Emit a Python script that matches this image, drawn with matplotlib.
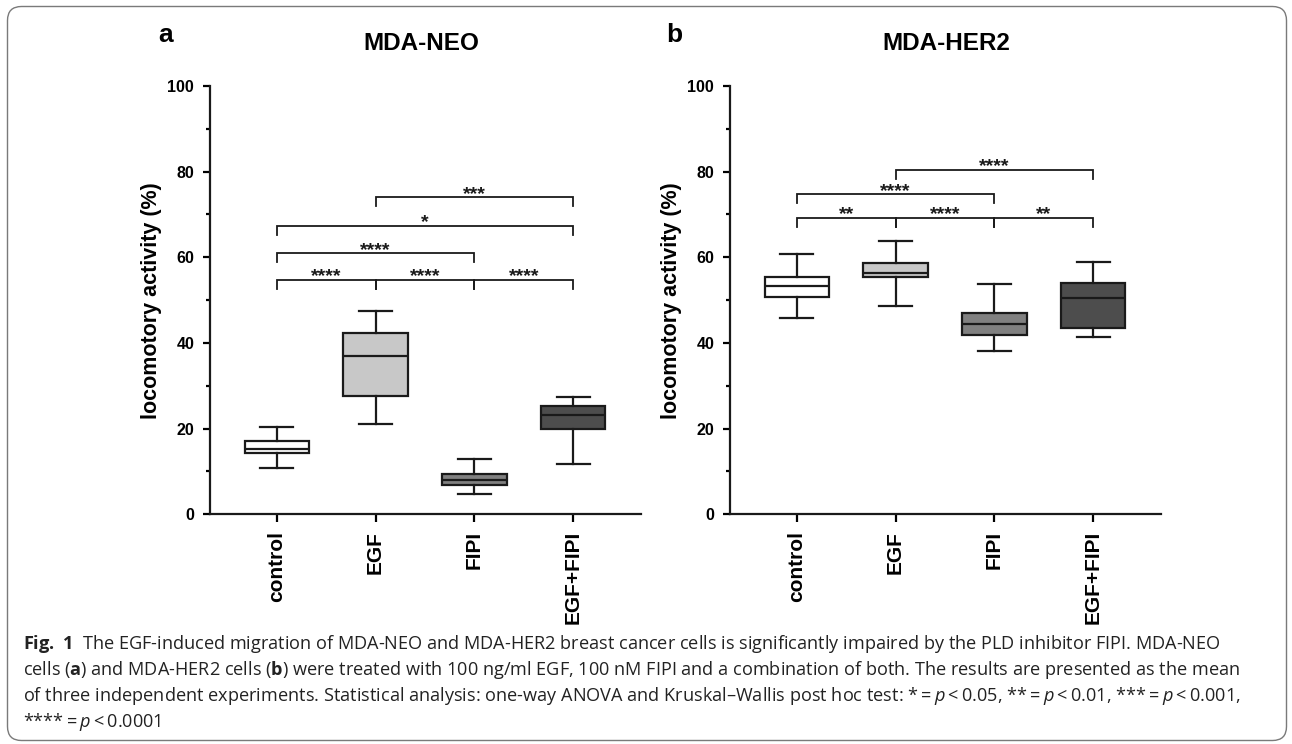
"""
Box plots of locomotory activity for MDA-NEO and MDA-HER2 cells (Fig. 1)
"""
import matplotlib
matplotlib.use('Agg')
import matplotlib.pyplot as plt
from matplotlib.patches import FancyBboxPatch
from matplotlib.ticker import MultipleLocator
from matplotlib.transforms import IdentityTransform

W, H = 1292, 744

groups = ['control', 'EGF', 'FIPI', 'EGF+FIPI']
box_colors = ['#ffffff', '#c8c8c8', '#808080', '#4d4d4d']

# panel a: MDA-NEO
neo_whislo = [10.7, 21.1, 4.7, 11.8]
neo_q1 = [14.3, 27.6, 6.8, 19.8]
neo_med = [15.3, 36.9, 7.9, 23.3]
neo_q3 = [17.2, 42.3, 9.3, 25.3]
neo_whishi = [20.4, 47.4, 12.9, 27.4]
# significance brackets: (group i, group j, height, label)
neo_sig = [(0, 1, 54.7, '****'), (1, 2, 54.7, '****'), (2, 3, 54.7, '****'),
           (0, 2, 60.9, '****'), (0, 3, 67.4, '*'), (1, 3, 74.0, '***')]

# panel b: MDA-HER2
her_whislo = [45.9, 48.6, 38.2, 41.4]
her_q1 = [50.8, 55.5, 41.8, 43.5]
her_med = [53.4, 56.4, 44.5, 50.5]
her_q3 = [55.4, 58.7, 46.9, 54.0]
her_whishi = [60.7, 63.8, 53.7, 58.9]
her_sig = [(0, 1, 69.2, '**'), (1, 2, 69.2, '****'), (2, 3, 69.2, '**'),
           (0, 2, 74.7, '****'), (1, 3, 80.5, '****')]

caption_lines = [
    r"$\mathbf{Fig.\ 1}$  The EGF-induced migration of MDA-NEO and MDA-HER2 breast cancer cells is significantly impaired by the PLD inhibitor FIPI. MDA-NEO",
    r"cells ($\mathbf{a}$) and MDA-HER2 cells ($\mathbf{b}$) were treated with 100 ng/ml EGF, 100 nM FIPI and a combination of both. The results are presented as the mean",
    r"of three independent experiments. Statistical analysis: one-way ANOVA and Kruskal–Wallis post hoc test: *$=\mathit{p}<$0.05, **$=\mathit{p}<$0.01, ***$=\mathit{p}<$0.001,",
    r"****$=\mathit{p}<$0.0001",
]

plt.rcParams['font.family'] = ['Liberation Sans', 'DejaVu Sans']
plt.rcParams['mathtext.fontset'] = 'custom'
plt.rcParams['mathtext.rm'] = 'Open Sans'
plt.rcParams['mathtext.it'] = 'Open Sans:italic'
plt.rcParams['mathtext.bf'] = 'Open Sans:bold'

INK = '#1a1a1a'
LW = 1.6


def draw_panel(ax, whislo, q1, med, q3, whishi, sig, title, letter, title_x, letter_x):
    stats = []
    for k in range(len(groups)):
        stats.append({'whislo': whislo[k], 'q1': q1[k], 'med': med[k],
                      'q3': q3[k], 'whishi': whishi[k], 'fliers': []})
    bp = ax.bxp(stats, positions=range(len(groups)), widths=0.65, capwidths=0.33,
                patch_artist=True, showfliers=False,
                boxprops=dict(linewidth=LW, edgecolor=INK),
                whiskerprops=dict(linewidth=LW, color=INK),
                capprops=dict(linewidth=LW, color=INK),
                medianprops=dict(linewidth=LW, color=INK))
    for patch, c in zip(bp['boxes'], box_colors):
        patch.set_facecolor(c)

    # significance brackets
    drop = 2.1
    for i, j, h, label in sig:
        ax.plot([i, i, j, j], [h - drop, h, h, h - drop], color=INK, lw=1.3,
                solid_joinstyle='miter', clip_on=False)
        ax.text((i + j) / 2, h - 0.3, label, ha='center', va='baseline',
                fontsize=14, fontweight='bold', color=INK)

    ax.set_xlim(-0.68, 3.68)
    ax.set_ylim(0, 100)
    ax.yaxis.set_major_locator(MultipleLocator(20))
    ax.yaxis.set_minor_locator(MultipleLocator(10))
    ax.set_xticks(range(len(groups)))
    ax.set_xticklabels(groups, rotation=90, fontsize=15, fontweight='bold')
    for lab in ax.get_yticklabels():
        lab.set_fontweight('bold')
    ax.tick_params(axis='y', which='major', length=5, width=LW, labelsize=11.5, pad=6)
    ax.tick_params(axis='y', which='minor', length=3, width=LW)
    ax.tick_params(axis='x', length=6, width=LW, pad=6)
    for s in ['top', 'right']:
        ax.spines[s].set_visible(False)
    for s in ['left', 'bottom']:
        ax.spines[s].set_linewidth(LW)
        ax.spines[s].set_color(INK)
    ax.set_ylabel('locomotory activity (%)', fontsize=15.5, fontweight='bold')

    fig = ax.figure
    fig.text(title_x / W, 1 - 44 / H, title, ha='center', va='center',
             fontsize=17.5, fontweight='bold')
    fig.text(letter_x / W, 1 - 35 / H, letter, ha='center', va='center',
             fontsize=19, fontweight='bold')


fig = plt.figure(figsize=(W / 100, H / 100), dpi=100)

ax_w = 431 / W
ax_b = (H - 514.3) / H
ax_h = 428.3 / H
ax_a = fig.add_axes([209.5 / W, ax_b, ax_w, ax_h])
ax_bb = fig.add_axes([729.5 / W, ax_b, ax_w, ax_h])

draw_panel(ax_a, neo_whislo, neo_q1, neo_med, neo_q3, neo_whishi, neo_sig,
           'MDA-NEO', 'a', 421, 166)
draw_panel(ax_bb, her_whislo, her_q1, her_med, her_q3, her_whishi, her_sig,
           'MDA-HER2', 'b', 946, 674)
# ylabel anchor is the right (descender) edge of the rotated text
ax_a.yaxis.set_label_coords((162 - 209.5) / 431, 0.5)
ax_bb.yaxis.set_label_coords((682 - 729.5) / 431, 0.5)

# caption
baselines = [649, 675, 701, 727]
for line, yb in zip(caption_lines, baselines):
    fig.text(23 / W, 1 - yb / H, line, ha='left', va='baseline',
             fontsize=13.1, fontweight='normal', family='Open Sans', color='#222222')

# rounded frame
frame = FancyBboxPatch((7.5, 3.5), 1279, 734, boxstyle='round,pad=0,rounding_size=14',
                       transform=IdentityTransform(), facecolor='none',
                       edgecolor='#7a7a7a', linewidth=1.0)
fig.add_artist(frame)

fig.savefig('out.png', dpi=100)
